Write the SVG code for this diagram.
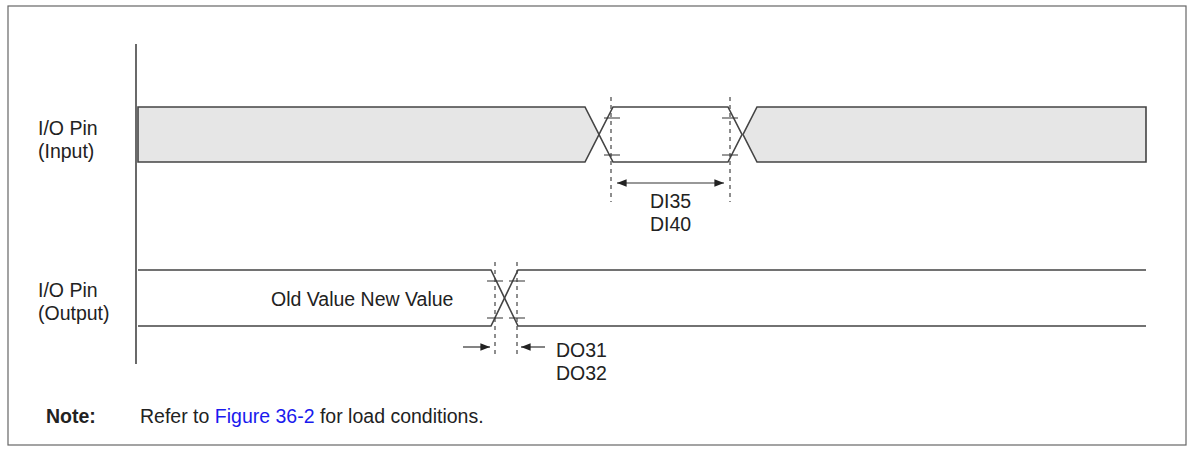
<svg xmlns="http://www.w3.org/2000/svg" width="1193" height="451" viewBox="0 0 1193 451">
<defs>
<style>
text{font-family:"Liberation Sans",Arial,sans-serif;font-size:19.5px;fill:#222}
.l{stroke:#444;stroke-width:1.6;fill:none}
.g{fill:#e6e6e6;stroke:#444;stroke-width:1.6}
.d{stroke:#444;stroke-width:1.2;stroke-dasharray:4,4}
.t{stroke:#333;stroke-width:1.2}
</style>
<marker id="a" viewBox="0 0 10 10" refX="10" refY="5" markerWidth="8" markerHeight="8" orient="auto-start-reverse"><path d="M0,1L10,5L0,9z" fill="#222"/></marker>
</defs>
<rect x="8" y="6" width="1178" height="439" fill="#fff" stroke="#666" stroke-width="1.2"/>
<g id="axis"><line class="l" x1="136" y1="44" x2="136" y2="364"/></g>
<g id="input">
<polygon class="g" points="138,107 585,107 599,134.5 585,162 138,162"/>
<polygon class="l" points="613,107 728,107 742,134.5 728,162 613,162 599,134.5"/>
<polygon class="g" points="1146,107 757,107 743,134.5 757,162 1146,162"/>
<line class="d" x1="611" y1="97" x2="611" y2="202"/>
<line class="d" x1="730" y1="97" x2="730" y2="202"/>
<path class="t" d="M604,118H620M604,155H620M722,118H738M722,155H738"/>
<text x="38" y="135">I/O Pin</text><text x="38" y="158">(Input)</text>
</g>
<g id="output">
<polyline class="l" points="138,270 491,270 518,326 1146,326"/>
<polyline class="l" points="138,326 491,326 518,270 1146,270"/>
<line class="d" x1="495" y1="262" x2="495" y2="354"/>
<line class="d" x1="517" y1="262" x2="517" y2="354"/>
<path class="t" d="M487,281H503M487,318H503M509,281H525M509,318H525"/>
<text x="38" y="297">I/O Pin</text><text x="38" y="320">(Output)</text>
<text x="271" y="306">Old Value New Value</text>
</g>
<g id="connectors">
<line class="t" x1="617" y1="183" x2="724" y2="183" marker-start="url(#a)" marker-end="url(#a)"/>
<line class="t" x1="463" y1="347" x2="490" y2="347" marker-end="url(#a)"/>
<line class="t" x1="545" y1="347" x2="521" y2="347" marker-end="url(#a)"/>
</g>
<text x="650" y="208">DI35</text><text x="650" y="231">DI40</text>
<text x="556" y="357">DO31</text><text x="556" y="380">DO32</text>
<text x="46" y="423" style="font-weight:bold">Note:</text>
<text x="140" y="423">Refer to <tspan style="fill:#1a1aee">Figure 36-2</tspan> for load conditions.</text>
</svg>
